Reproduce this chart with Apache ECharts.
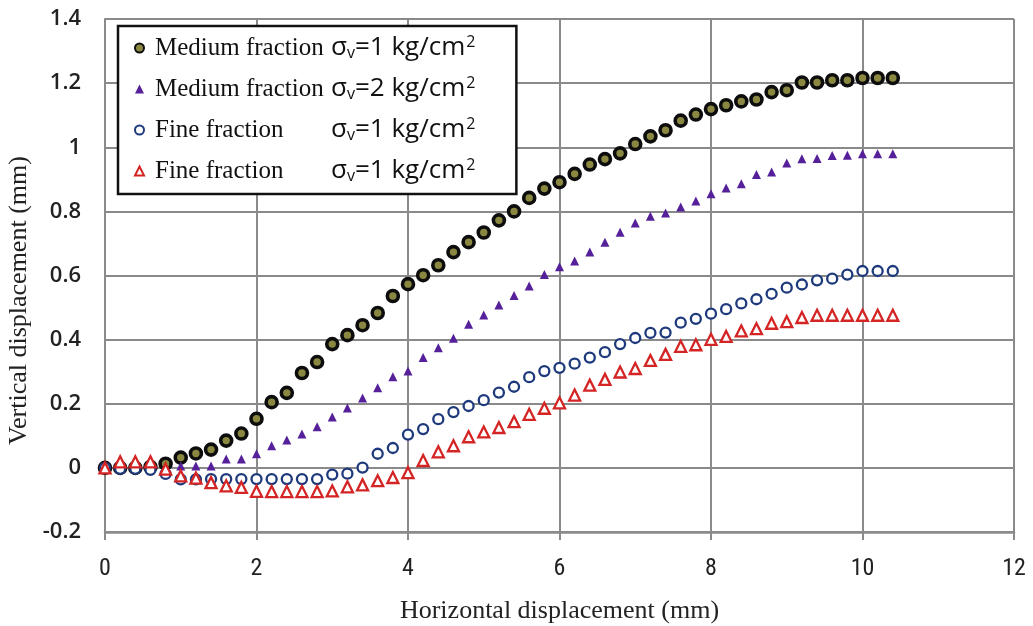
<!DOCTYPE html>
<html>
<head>
<meta charset="utf-8">
<title>Vertical vs horizontal displacement</title>
<script src="https://cdn.jsdelivr.net/npm/echarts@6/dist/echarts.min.js"></script>
<style>
    html, body { margin: 0; padding: 0; background: #fff; }
    #chart { width: 1033px; height: 626px; }
</style>
</head>
<body>
<div id="chart"></div>
<script>
// horizontal displacement (mm)
var xValues = [0, 0.2, 0.4, 0.6, 0.8, 1.0, 1.2, 1.4, 1.6, 1.8, 2.0, 2.2, 2.4, 2.6, 2.8, 3.0, 3.2, 3.4, 3.6, 3.8,
    4.0, 4.2, 4.4, 4.6, 4.8, 5.0, 5.2, 5.4, 5.6, 5.8, 6.0, 6.2, 6.4, 6.6, 6.8, 7.0, 7.2, 7.4, 7.6, 7.8,
    8.0, 8.2, 8.4, 8.6, 8.8, 9.0, 9.2, 9.4, 9.6, 9.8, 10.0, 10.2, 10.4];

// vertical displacement (mm)
var medium1 = [0, 0, 0, 0.003, 0.013, 0.032, 0.045, 0.057, 0.085, 0.107, 0.153, 0.205, 0.234, 0.296, 0.33, 0.386, 0.414, 0.445, 0.483, 0.536,
    0.573, 0.601, 0.632, 0.673, 0.704, 0.734, 0.772, 0.80, 0.842, 0.871, 0.891, 0.917, 0.946, 0.963, 0.981, 1.01, 1.034, 1.053, 1.083, 1.102,
    1.119, 1.131, 1.143, 1.149, 1.172, 1.178, 1.202, 1.202, 1.209, 1.209, 1.216, 1.216, 1.216];
var medium2 = [0, -0.003, -0.003, -0.003, 0, 0.006, 0.006, 0.006, 0.028, 0.028, 0.044, 0.069, 0.087, 0.106, 0.128, 0.159, 0.187, 0.218, 0.25, 0.284,
    0.302, 0.344, 0.375, 0.404, 0.448, 0.477, 0.508, 0.538, 0.567, 0.603, 0.627, 0.645, 0.673, 0.704, 0.735, 0.764, 0.785, 0.795, 0.814, 0.832,
    0.855, 0.873, 0.886, 0.915, 0.923, 0.951, 0.964, 0.965, 0.974, 0.975, 0.98, 0.98, 0.98];
var fine1 = [0, -0.003, -0.003, -0.006, -0.019, -0.036, -0.036, -0.035, -0.035, -0.035, -0.035, -0.035, -0.035, -0.035, -0.035, -0.021, -0.018, 0.001, 0.044, 0.062,
    0.104, 0.121, 0.152, 0.174, 0.193, 0.211, 0.235, 0.253, 0.283, 0.302, 0.312, 0.325, 0.344, 0.361, 0.386, 0.405, 0.421, 0.422, 0.453, 0.465,
    0.481, 0.495, 0.513, 0.526, 0.543, 0.562, 0.572, 0.585, 0.59, 0.603, 0.614, 0.614, 0.614];
var fine2 = [0, 0.019, 0.019, 0.019, -0.004, -0.025, -0.032, -0.046, -0.056, -0.061, -0.073, -0.074, -0.074, -0.074, -0.074, -0.072, -0.059, -0.053, -0.04, -0.03,
    -0.015, 0.023, 0.05, 0.069, 0.097, 0.112, 0.126, 0.144, 0.167, 0.186, 0.203, 0.227, 0.258, 0.276, 0.299, 0.31, 0.335, 0.354, 0.379, 0.384,
    0.401, 0.41, 0.427, 0.434, 0.451, 0.456, 0.469, 0.476, 0.476, 0.476, 0.476, 0.476, 0.476];

// legend texts
var fractionNames = ['Medium fraction', 'Medium fraction', 'Fine fraction', 'Fine fraction'];
var stressValues = ['1', '2', '1', '1'];
var seriesKeys = ['m1', 'm2', 'f1', 'f2'];

function pairs(ys) {
    var out = [];
    for (var i = 0; i < ys.length; i++) {
        out.push([xValues[i], ys[i]]);
    }
    return out;
}

var chart = echarts.init(document.getElementById('chart'));

var gridColor = '#8a8a8a';

var option = {
    animation: false,
    backgroundColor: '#fff',
    grid: {
        left: 105,
        right: 19,
        top: 19,
        bottom: 94,
        outerBoundsMode: 'none'
    },
    legend: {
        orient: 'vertical',
        left: 118,
        top: 26,
        padding: [8, 41, 9, 16],
        itemGap: 13,
        itemWidth: 9,
        itemHeight: 9,
        backgroundColor: '#fff',
        borderColor: '#111',
        borderWidth: 2.5,
        data: seriesKeys,
        formatter: function (name) {
            var i = seriesKeys.indexOf(name);
            return '{a|' + fractionNames[i] + '}{s|σ}{sub|v}{s|=' + stressValues[i] + ' kg/cm}{sup|2}';
        },
        textStyle: {
            rich: {
                a: {
                    fontFamily: 'Liberation Serif',
                    fontSize: 25,
                    color: '#111',
                    width: 176,
                    padding: [0, 0, 0, 6],
                    lineHeight: 28
                },
                s: {
                    fontFamily: 'Open Sans',
                    fontSize: 26,
                    color: '#111',
                    lineHeight: 28
                },
                sub: {
                    fontFamily: 'Open Sans',
                    fontSize: 16,
                    color: '#111',
                    lineHeight: 28,
                    verticalAlign: 'bottom',
                    padding: [0, 0, 1, 0]
                },
                sup: {
                    fontFamily: 'Open Sans',
                    fontSize: 16,
                    color: '#111',
                    lineHeight: 28,
                    verticalAlign: 'top',
                    padding: [0, 0, 0, 1]
                }
            }
        }
    },
    xAxis: {
        type: 'value',
        min: 0,
        max: 12,
        interval: 2,
        name: 'Horizontal displacement (mm)',
        nameLocation: 'middle',
        nameGap: 66,
        nameTextStyle: {
            fontFamily: 'Liberation Serif',
            fontSize: 26,
            color: '#222'
        },
        axisLine: { onZero: false, lineStyle: { color: gridColor, width: 2.5 } },
        axisTick: { show: true, length: 8, lineStyle: { color: gridColor, width: 2 } },
        axisLabel: {
            margin: 25,
            fontFamily: 'Liberation Sans Narrow, Roboto Condensed, Liberation Sans',
            fontSize: 24,
            color: '#222'
        },
        splitLine: { show: true, lineStyle: { color: gridColor, width: 2 } }
    },
    yAxis: {
        type: 'value',
        min: -0.2,
        max: 1.4,
        interval: 0.2,
        name: 'Vertical displacement (mm)',
        nameLocation: 'middle',
        nameGap: 70,
        nameTextStyle: {
            fontFamily: 'Liberation Serif',
            fontSize: 26,
            color: '#222',
            padding: [0, 50, 0, 0]
        },
        axisLine: { show: true, onZero: false, lineStyle: { color: gridColor, width: 2 } },
        axisTick: { show: false },
        axisLabel: {
            margin: 24,
            fontFamily: 'Open Sans',
            fontWeight: 600,
            fontSize: 22,
            color: '#222',
            formatter: function (v) {
                return String(Math.round(v * 10) / 10);
            }
        },
        splitLine: { show: true, lineStyle: { color: gridColor, width: 2 } }
    },
    series: [
        {
            name: 'm1',
            type: 'scatter',
            symbol: 'circle',
            symbolSize: 11,
            itemStyle: { color: '#8a8840', borderColor: '#0d0d0d', borderWidth: 3.6, opacity: 1 },
            data: pairs(medium1)
        },
        {
            name: 'm2',
            type: 'scatter',
            symbol: 'triangle',
            symbolSize: 9,
            itemStyle: { color: '#55209a', opacity: 1 },
            data: pairs(medium2)
        },
        {
            name: 'f1',
            type: 'scatter',
            symbol: 'circle',
            symbolSize: 10,
            itemStyle: { color: '#fff', borderColor: '#1e3a7c', borderWidth: 2.3, opacity: 1 },
            data: pairs(fine1)
        },
        {
            name: 'f2',
            type: 'scatter',
            symbol: 'triangle',
            symbolSize: 11,
            itemStyle: { color: '#fff', borderColor: '#d42424', borderWidth: 2.3, opacity: 1 },
            data: pairs(fine2)
        }
    ]
};

chart.setOption(option);
</script>
</body>
</html>
